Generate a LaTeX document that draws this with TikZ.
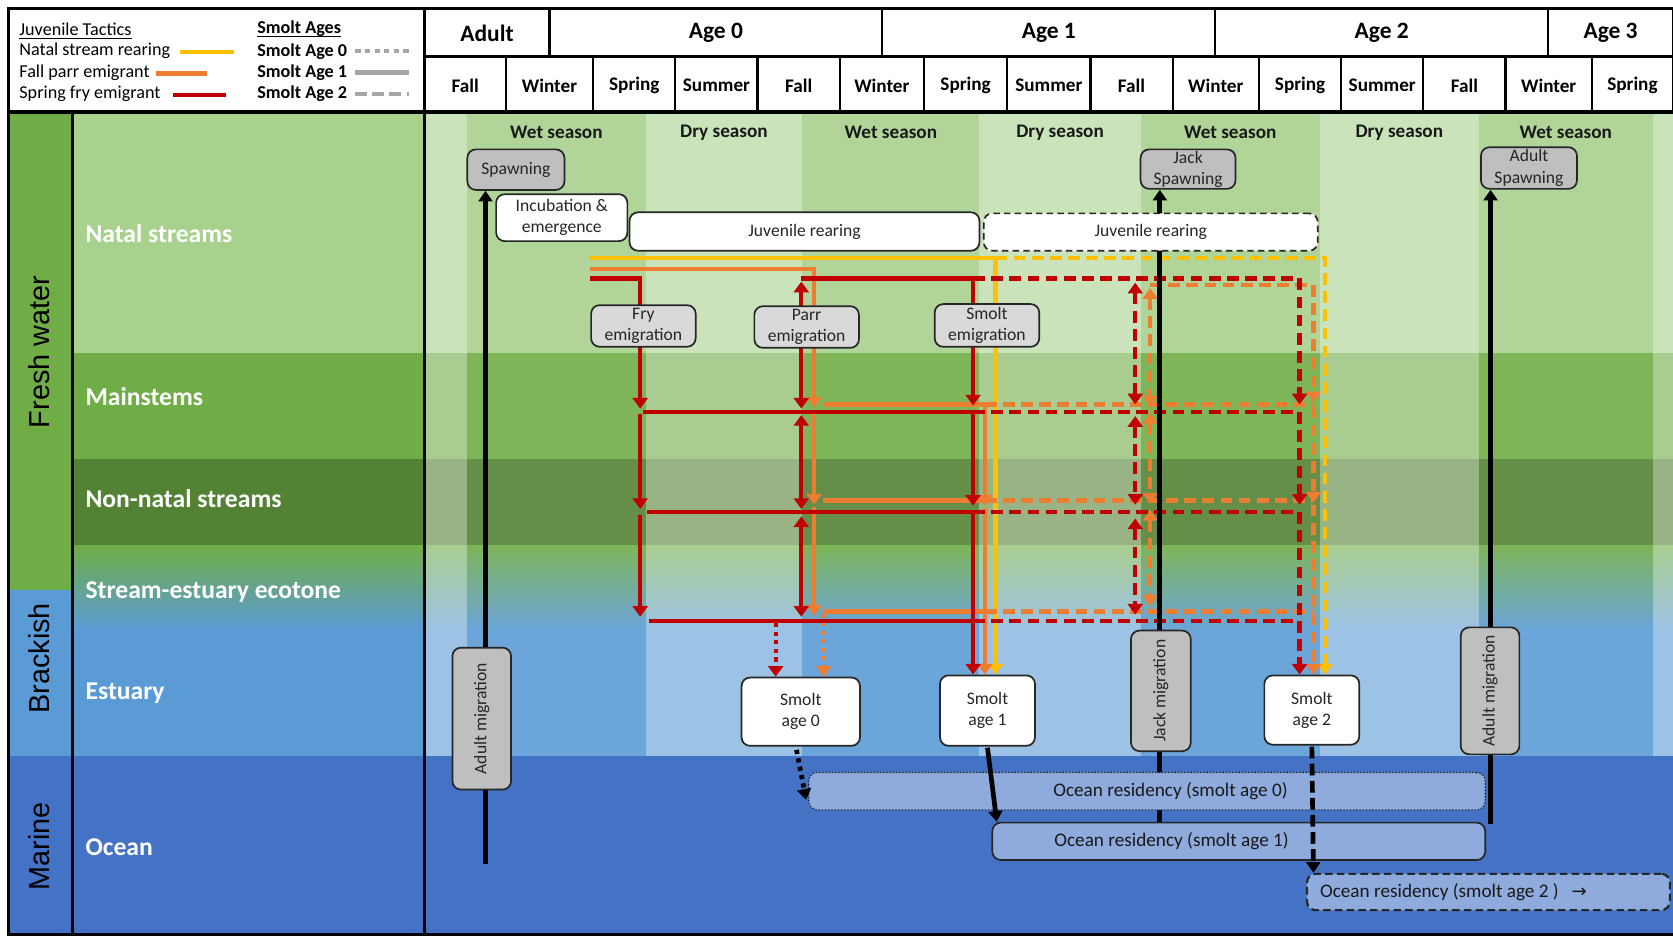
\documentclass[tikz,border=0pt]{standalone}
\usepackage{fontspec}
\setmainfont{Carlito}
\newfontfamily\arialfnt{Liberation Sans}
\newfontfamily\arrfnt{DejaVu Sans}
\usetikzlibrary{arrows.meta,calc}

\pgfdeclarelayer{bands}
\pgfdeclarelayer{flows}
\pgfsetlayers{bands,flows,main}

\definecolor{cYel}{HTML}{FFC000}
\definecolor{cOra}{HTML}{ED7D31}
\definecolor{cRed}{HTML}{C00000}
\definecolor{natal}{HTML}{A9D18E}
\definecolor{mainst}{HTML}{70AD47}
\definecolor{nonnat}{HTML}{548235}
\definecolor{estu}{HTML}{5B9BD5}
\definecolor{ocean}{HTML}{4472C4}
\definecolor{gbox}{HTML}{BFBFBF}
\definecolor{lgbox}{HTML}{D9D9D9}
\definecolor{obox}{HTML}{8FAADC}
\definecolor{legray}{HTML}{A6A6A6}

\newcommand\bxfnt{\fontsize{16.5}{20}\selectfont}
\newcommand\orfnt{\fontsize{18}{22}\selectfont}
\newcommand\lgfnt{\fontsize{17}{20}\selectfont}
\newcommand\hdAfnt{\fontsize{22}{26}\selectfont\bfseries}
\newcommand\hdBfnt{\fontsize{18}{22}\selectfont\bfseries}
\newcommand\habfnt{\fontsize{24}{28}\selectfont\bfseries}
\newcommand\regfnt{\arialfnt\fontsize{27}{30}\selectfont}

\begin{document}
\begin{tikzpicture}[x=1pt,y=-1pt,
  flow/.style={line width=4pt},
  yl/.style={flow, draw=cYel},
  ol/.style={flow, draw=cOra},
  rl/.style={flow, draw=cRed},
  ldash/.style={dash pattern=on 11pt off 6pt},
  ldot/.style={dash pattern=on 4pt off 4pt},
  endarr/.style={-{Triangle[width=14pt,length=10pt]}},
  twoarr/.style={{Triangle[width=14pt,length=10pt]}-{Triangle[width=14pt,length=10pt]}},
  blk/.style={line width=4.4pt, draw=black},
  blkarr/.style={-{Triangle[width=13pt,length=10pt]}},
  grid/.style={line width=2pt, draw=black},
  boxbase/.style={draw=black!85, line width=1.6pt, rounded corners=8pt,
    inner sep=0pt, align=center, font=\bxfnt, text=black!85},
  gbx/.style={boxbase, fill=gbox},
  lgbx/.style={boxbase, fill=lgbox},
  wbx/.style={boxbase, fill=white},
  obx/.style={boxbase, fill=obox, font=\orfnt},
  habtxt/.style={anchor=west, inner sep=0pt, text=white, font=\habfnt},
  regtxt/.style={rotate=90, inner sep=0pt, font=\regfnt},
  seasontxt/.style={inner sep=0pt, font=\hdBfnt, text=black!90},
  legtxt/.style={anchor=west, inner sep=0pt, font=\lgfnt}
]
\useasboundingbox (0,0) rectangle (1568,878);

% ---------------- background bands ----------------
\begin{pgfonlayer}{bands}
\fill[white] (0,0) rectangle (1568,878);
\fill[natal]  (68,105) rectangle (1568,331);
\fill[mainst] (68,331) rectangle (1568,430);
\fill[nonnat] (68,430) rectangle (1568,511);
\shade[top color=mainst, bottom color=estu] (68,511) rectangle (1568,590);
\fill[estu]   (68,590) rectangle (1568,709);
\fill[ocean]  (68,709) rectangle (1568,876);
% region column
\fill[mainst] (8,105) rectangle (68,553);
\fill[estu]   (8,553) rectangle (68,709);
\fill[ocean]  (8,709) rectangle (68,876);
% wet / dry season stripes
\foreach \a/\b/\o in {398/438/.4, 438/605/.1, 605/752/.4, 752/918/.1,
    918/1069/.4, 1069/1237/.1, 1237/1386/.4, 1386/1549/.1, 1549/1568/.4}
  \fill[white, fill opacity=\o] (\a,105) rectangle (\b,709);
% frame
\draw[line width=2.5pt] (8,8) rectangle (398,105);
\draw[line width=2.5pt] (8,8) -- (1568,8);
\draw[line width=3pt] (8,105) -- (1568,105);
\draw[line width=3pt] (398,8) -- (398,876);
\draw[line width=3pt] (68,105) -- (68,876);
\draw[line width=2.5pt] (8,8) -- (8,876) -- (1568,876);
\end{pgfonlayer}

% ---------------- legend ----------------
\node[legtxt] (lgjt) at (18,27) {Juvenile Tactics};
\draw[line width=1.1pt] ([yshift=-3pt]lgjt.base west) -- ([yshift=-3pt]lgjt.base east);
\node[legtxt] (lgy) at (18,48) {Natal stream rearing};
\node[legtxt] (lgo) at (18,68) {Fall parr emigrant};
\node[legtxt] (lgr) at (18,88) {Spring fry emigrant};
\draw[flow, cYel] (169,49) -- (219,49);
\draw[flow, cOra] (146,69) -- (194,69);
\draw[flow, cRed] (162,89) -- (212,89);
\node[legtxt, font=\lgfnt\bfseries] (lgsa) at (241,27) {Smolt Ages};
\draw[line width=1.1pt] ([yshift=-3pt]lgsa.base west) -- ([yshift=-3pt]lgsa.base east);
\node[legtxt, font=\lgfnt\bfseries] (lg0) at (241,48) {Smolt Age 0};
\node[legtxt, font=\lgfnt\bfseries] (lg1) at (241,68) {Smolt Age 1};
\node[legtxt, font=\lgfnt\bfseries] (lg2) at (241,88) {Smolt Age 2};
\draw[flow, legray, dash pattern=on 5pt off 4pt] (333,48) -- (383,48);
\draw[flow, legray] (333,68) -- (383,68);
\draw[flow, legray, dash pattern=on 11pt off 5pt] (333,88) -- (383,88);

% ---------------- header ----------------
\foreach \a/\b/\t [count=\i] in {398/515/Adult, 515/827/Age 0, 827/1139/Age 1,
    1139/1451/Age 2, 1451/1568/Age 3} {
  \draw[grid] (\a,8) rectangle (\b,53);
  \node[inner sep=0pt, font=\hdAfnt] (age\i) at ({(\a+\b)/2},31) {\t};
}
\foreach \a/\b/\t [count=\i] in {398/474/Fall, 474/556/Winter, 556/633/Spring,
    633/710/Summer, 710/787/Fall, 787/866/Winter, 866/944/Spring, 944/1022/Summer,
    1022/1099/Fall, 1099/1180/Winter, 1180/1257/Spring, 1257/1334/Summer,
    1334/1411/Fall, 1411/1492/Winter, 1492/1568/Spring} {
  \draw[grid] (\a,53) rectangle (\b,105);
  \node[inner sep=0pt, font=\hdBfnt] (sea\i) at ({(\a+\b)/2},80) {\t};
}

% ---------------- row and region labels ----------------
\node[regtxt] (rfw) at (37,330) {Fresh water};
\node[regtxt] (rbr) at (37,617) {Brackish};
\node[regtxt] (rma) at (37,793) {Marine};
\node[habtxt] (hns) at (80,219) {Natal streams};
\node[habtxt] (hms) at (80,372) {Mainstems};
\node[habtxt] (hnn) at (80,467) {Non-natal streams};
\node[habtxt] (hec) at (80,555) {Stream-estuary ecotone};
\node[habtxt] (hes) at (80,650) {Estuary};
\node[habtxt] (hoc) at (80,794) {Ocean};

\foreach \x/\t [count=\i] in {521.5/Wet season, 678.5/Dry season, 835/Wet season,
    993.5/Dry season, 1153/Wet season, 1311.5/Dry season, 1467.5/Wet season}
  \node[seasontxt] (ws\i) at (\x,124) {\t};

% ---------------- boxes ----------------
\node[gbx, minimum width=91pt, minimum height=38pt] (spawn) at (483.5,159) {Spawning};
\node[wbx, minimum width=123pt, minimum height=44pt] (incub) at (526.5,204) {Incubation \&\\emergence};
\node[wbx, minimum width=328pt, minimum height=36pt] (juv1) at (754,217) {Juvenile rearing};
\node[wbx, dash pattern=on 6pt off 4pt, minimum width=313pt, minimum height=35pt] (juv2) at (1078.5,217.5) {Juvenile rearing};
\node[gbx, minimum width=89pt, minimum height=37pt] (jacksp) at (1113.5,158.5) {Jack\\Spawning};
\node[gbx, minimum width=90pt, minimum height=39pt] (adultsp) at (1433,157.5) {Adult\\Spawning};
\node[lgbx, minimum width=98pt, minimum height=39pt] (fry) at (603,305.5) {Fry\\emigration};
\node[lgbx, minimum width=98pt, minimum height=39pt] (parr) at (756,306.5) {Parr\\emigration};
\node[lgbx, minimum width=98pt, minimum height=40pt] (smem) at (925,305) {Smolt\\emigration};
\node[gbx, rotate=90, minimum width=133pt, minimum height=55pt] (amig1) at (451.5,673.5) {Adult migration};
\node[wbx, minimum width=111pt, minimum height=64pt] (s0) at (750.5,667) {Smolt\\age 0};
\node[wbx, minimum width=89pt, minimum height=66pt] (s1) at (925.5,666) {Smolt\\age 1};
\node[gbx, rotate=90, minimum width=113pt, minimum height=56pt] (jackmig) at (1088,647.5) {Jack migration};
\node[wbx, minimum width=89pt, minimum height=65pt] (s2) at (1229.5,665.5) {Smolt\\age 2};
\node[gbx, rotate=90, minimum width=119pt, minimum height=55pt] (amig2) at (1396.5,647.5) {Adult migration};
\node[obx, line width=1pt, dash pattern=on 1.5pt off 1.5pt, minimum width=634pt, minimum height=35pt] (or0) at (1075,741.5) {};
\node[obx, minimum width=462pt, minimum height=35pt] (or1) at (1161,788.5) {};
\node[obx, line width=2pt, dash pattern=on 7pt off 4pt, minimum width=340pt, minimum height=34pt] (or2) at (1395,836) {};
\node[inner sep=0pt, font=\orfnt, text=black!90] (or0t) at (1097,741.5) {Ocean residency (smolt age 0)};
\node[inner sep=0pt, font=\orfnt, text=black!90] (or1t) at (1098,788.5) {Ocean residency (smolt age 1)};
\node[anchor=west, inner sep=0pt, font=\orfnt, text=black!90] (or2t) at (1237,836) {Ocean residency (smolt age 2 )\;\, {\arrfnt\fontsize{17}{18}\selectfont →}};

% ---------------- habitat flows ----------------
\begin{pgfonlayer}{flows}
% natal stream rearing
\draw[yl, endarr] (553,242) -- (933,242) -- (933,0 |- s1.north);
\draw[yl, ldash, endarr] (933,242) -- (1242,242) -- (1242,0 |- s2.north);

% fall parr emigrant
\draw[ol, endarr] (553,252) -- (763,252) -- (763,382);
\draw[ol, endarr] (763,384) -- (763,473);
\draw[ol, endarr] (763,475) -- (763,577);
\draw[ol, endarr] (771,379) -- (923,379) -- (923,474);
\draw[ol] (771,469) -- (923,469);
\draw[ol, endarr] (923,476) -- (923,0 |- s1.north);
\draw[ol] (771,573) -- (923,573);
\draw[ol, ldash] (923,379) -- (1231,379);
\draw[ol, ldash] (923,469) -- (1231,469);
\draw[ol, ldash] (923,573) -- (1231,573);
\draw[ol, ldash, endarr] (1078,267) -- (1231,267) -- (1231,377);
\draw[ol, ldash, endarr] (1231,381) -- (1231,471);
\draw[ol, ldash, endarr] (1231,473) -- (1231,0 |- s2.north);
\draw[ol, ldash, twoarr] (1078,270) -- (1078,381);
\draw[ol, ldash, twoarr] (1078,387) -- (1078,472);
\draw[ol, ldash, twoarr] (1078,478) -- (1078,568);
\draw[ol, ldot, endarr] (772,575) -- (772,0 |- s0.north);

% spring fry emigrant
\draw[rl, endarr] (553,261) -- (600,261) -- (600,383);
\draw[rl, endarr] (600,388) -- (600,477);
\draw[rl, endarr] (600,483) -- (600,578);
\draw[rl] (603,386) -- (912,386);
\draw[rl] (606,480) -- (912,480);
\draw[rl] (608,582) -- (912,582);
\draw[rl, ldash] (912,386) -- (1218,386);
\draw[rl, ldash] (912,480) -- (1218,480);
\draw[rl, ldash] (912,582) -- (1218,582);
\draw[rl, twoarr] (751,264) -- (751,383);
\draw[rl, twoarr] (751,389) -- (751,477);
\draw[rl, twoarr] (751,484) -- (751,578);
\draw[rl] (751,261) -- (912,261);
\draw[rl, endarr] (912,261) -- (912,380);
\draw[rl, endarr] (912,388) -- (912,474);
\draw[rl, endarr] (912,482) -- (912,0 |- s1.north);
\draw[rl, ldash, endarr] (912,261) -- (1218,261) -- (1218,379);
\draw[rl, ldash, endarr] (1218,386) -- (1218,473);
\draw[rl, ldash, endarr] (1218,480) -- (1218,0 |- s2.north);
\draw[rl, ldash, twoarr] (1064,265) -- (1064,379);
\draw[rl, ldash, twoarr] (1064,390) -- (1064,473);
\draw[rl, ldash, twoarr] (1064,486) -- (1064,576);
\draw[rl, ldot, endarr] (727,584) -- (727,0 |- s0.north);

% adult and jack migrations
\draw[blk, blkarr] (455,810) -- (455,0 |- spawn.south);
\draw[blk, blkarr] (1087,0 |- or1.north) -- (1087,0 |- jacksp.south);
\draw[blk, blkarr] (1397,772) -- (1397,0 |- adultsp.south);
\end{pgfonlayer}

% smolts entering the ocean
\draw[blk, ldot, blkarr] ($(s0.south)+(-4,3)$) -- ($(or0.west)+(-2,8)$);
\draw[blk, blkarr] ($(s1.south)+(0,1)$) -- ($(or1.north west)+(5,0)$);
\draw[blk, dash pattern=on 11pt off 5pt, blkarr] ($(s2.south)+(0,1)$) -- ($(or2.north west)+(7,0)$);
\end{tikzpicture}
\end{document}
